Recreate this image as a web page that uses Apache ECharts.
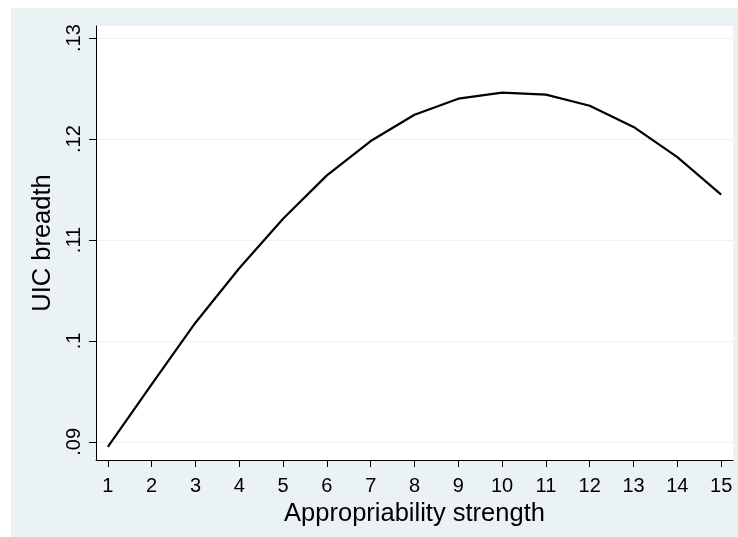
<!DOCTYPE html>
<html>
<head>
<meta charset="utf-8">
<script src="https://cdn.jsdelivr.net/npm/echarts@6/dist/echarts.min.js"></script>
<style>
  html, body { margin: 0; padding: 0; background: #fff; }
  #chart { position: absolute; left: 11px; top: 8px; width: 727px; height: 529px; }
</style>
</head>
<body>
<div id="chart"></div>
<script>
// appropriability strength 1..15 against predicted UIC breadth
const strength = [1, 2, 3, 4, 5, 6, 7, 8, 9, 10, 11, 12, 13, 14, 15];
const breadth = [0.0895, 0.0957, 0.1018, 0.1072, 0.1121, 0.1164, 0.1198, 0.1224,
  0.1240, 0.1246, 0.1244, 0.1233, 0.1212, 0.1182, 0.1145];
const xTicks = [1, 2, 3, 4, 5, 6, 7, 8, 9, 10, 11, 12, 13, 14, 15];
const yTicks = [0.09, 0.10, 0.11, 0.12, 0.13];
const yTickLabels = ['.09', '.1', '.11', '.12', '.13'];

const font = '"Liberation Sans", Arial, sans-serif';
const chart = echarts.init(document.getElementById('chart'));

const option = {
  backgroundColor: '#eaf2f3',
  animation: false,
  grid: {
    left: 85,
    right: 5,
    top: 18,
    bottom: 77,
    show: true,
    backgroundColor: '#fff',
    borderWidth: 0
  },
  xAxis: {
    type: 'value',
    min: 0.73,
    max: 15.27,
    name: 'Appropriability strength',
    nameLocation: 'middle',
    nameGap: 38,
    nameTextStyle: { fontFamily: font, fontSize: 25.5, color: '#000' },
    axisLine: { lineStyle: { color: '#000', width: 1 } },
    axisTick: { show: true, length: 7, customValues: xTicks, lineStyle: { color: '#000' } },
    axisLabel: { customValues: xTicks, margin: 16, fontFamily: font, fontSize: 20, color: '#000' },
    splitLine: { show: false }
  },
  yAxis: {
    type: 'value',
    min: 0.0882,
    max: 0.1312,
    name: 'UIC breadth',
    nameLocation: 'middle',
    nameGap: 36,
    nameRotate: 90,
    nameTextStyle: { fontFamily: font, fontSize: 25.5, color: '#000' },
    axisLine: { show: true, lineStyle: { color: '#000', width: 1 } },
    axisTick: { show: true, length: 7, customValues: yTicks, lineStyle: { color: '#000' } },
    axisLabel: {
      customValues: yTicks,
      rotate: 90,
      margin: 12,
      fontFamily: font,
      fontSize: 20,
      color: '#000',
      formatter: (v) => yTickLabels[yTicks.findIndex(t => Math.abs(t - v) < 1e-9)]
    },
    splitLine: { show: true, lineStyle: { color: '#eaf2f3', width: 1 } }
  },
  series: [
    {
      type: 'line',
      data: strength.map((s, i) => [s, breadth[i]]),
      showSymbol: false,
      lineStyle: { color: '#000', width: 2.2 }
    }
  ]
};
chart.setOption(option);
</script>
</body>
</html>
